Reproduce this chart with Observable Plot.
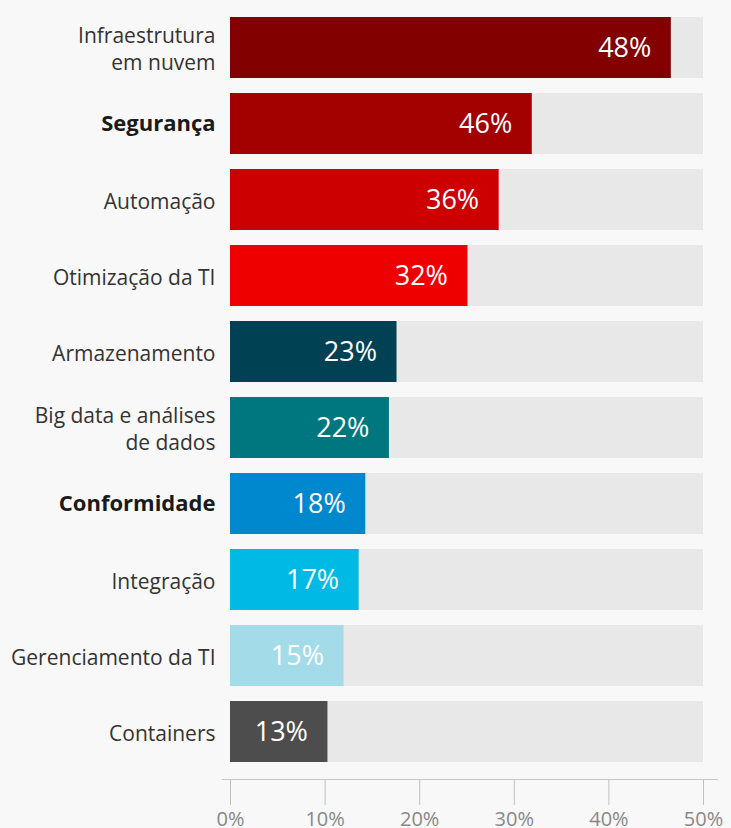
<!DOCTYPE html>
<html><head><meta charset="utf-8">
<script src="https://cdn.jsdelivr.net/npm/d3@7"></script>
<script src="https://cdn.jsdelivr.net/npm/@observablehq/plot@0.6"></script>
<style>
html,body{margin:0;padding:0;background:#f8f8f8;}
#chart svg{display:block;}
</style></head><body><div id="chart"></div>
<script>
const categories = ["Infraestrutura\nem nuvem","Segurança","Automação","Otimização da TI","Armazenamento","Big data e análises\nde dados","Conformidade","Integração","Gerenciamento da TI","Containers"];
const barValues = [46.6,31.9,28.4,25.1,17.6,16.8,14.3,13.6,12.0,10.3];
const valueLabels = ["48%","46%","36%","32%","23%","22%","18%","17%","15%","13%"];
const barColors = ["#820000","#a30000","#cc0000","#ee0000","#004153","#00777f","#0088ce","#00b9e4","#a3dbe8","#4d4d4d"];
const boldCategories = ["Segurança","Conformidade"];
const xTicks = [0,10,20,30,40,50];
const xMax = 50;

const rows = categories.map((c,i)=>({cat:c, value:barValues[i], label:valueLabels[i], bold:boldCategories.includes(c)}));

const chart = Plot.plot({
  width:731, height:828,
  marginLeft:230, marginRight:28, marginTop:0, marginBottom:49,
  style:{background:"#f8f8f8", fontFamily:"'Open Sans', sans-serif"},
  x:{domain:[0,xMax], axis:null, label:null},
  y:{domain:categories, padding:0.2, axis:null},
  color:{domain:categories, range:barColors},
  marks:[
    Plot.barX(rows,{y:"cat", x1:()=>0, x2:()=>xMax, fill:"#e8e8e8"}),
    Plot.barX(rows,{y:"cat", x1:()=>0, x2:"value", fill:"cat"}),
    Plot.text(rows,{y:"cat", x:"value", text:"label", textAnchor:"end", dx:-20, fill:"white", fontSize:27}),
    Plot.text(rows.filter(d=>!d.bold),{y:"cat", x:()=>0, text:"cat", textAnchor:"end", dx:-15, fontSize:21, fill:"#333", lineHeight:1.28}),
    Plot.text(rows.filter(d=>d.bold),{y:"cat", x:()=>0, text:"cat", textAnchor:"end", dx:-15, fontSize:22, fontWeight:"bold", fill:"#1a1a1a"}),
    Plot.frame({anchor:"bottom", stroke:"#c8c8c8", insetLeft:-8, insetRight:-14}),
    Plot.axisX(xTicks,{anchor:"bottom", label:null, tickSize:26, tickPadding:6, tickFormat:d=>d+"%", stroke:"#c0c0c0", fill:"#888", fontSize:20})
  ]
});
document.getElementById("chart").appendChild(chart);
</script></body></html>
